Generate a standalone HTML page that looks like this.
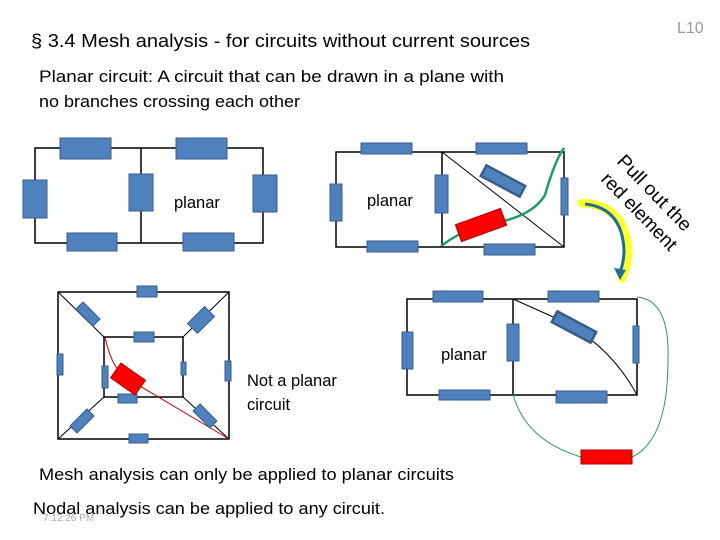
<!DOCTYPE html>
<html><head><style>
body{margin:0;background:#fff;}
svg{display:block;}
text{font-family:"Liberation Sans",sans-serif;}
</style></head><body>
<svg width="720" height="540" viewBox="0 0 720 540" xmlns="http://www.w3.org/2000/svg">
<g fill="#000">
<text x="31" y="47" font-size="18" textLength="499" lengthAdjust="spacingAndGlyphs">§ 3.4  Mesh analysis -  for circuits without current sources</text>
<text x="677" y="33" font-size="16" fill="#999">L10</text>
<text x="39" y="82" font-size="16.5" textLength="465" lengthAdjust="spacingAndGlyphs">Planar circuit:  A circuit that can be drawn in a plane with</text>
<text x="39" y="107" font-size="16.5" textLength="261" lengthAdjust="spacingAndGlyphs">no branches crossing each other</text>
<text x="39" y="480" font-size="16.5" textLength="415" lengthAdjust="spacingAndGlyphs">Mesh analysis can only be applied to planar circuits</text>
<text x="33" y="514" font-size="16.5" textLength="352" lengthAdjust="spacingAndGlyphs">Nodal analysis can be applied to any circuit.</text>
<text x="43" y="521" font-size="10" fill="#aaa">7:12:26 PM</text>
<text x="174" y="208" font-size="16.5">planar</text>
<text x="367" y="206" font-size="16.5">planar</text>
<text x="441" y="360" font-size="16.5">planar</text>
<text x="247" y="386" font-size="16.5">Not a planar</text>
<text x="247" y="410" font-size="16.5">circuit</text>
<text font-size="19" transform="translate(616,162) rotate(46)" textLength="98" lengthAdjust="spacingAndGlyphs">Pull out the</text>
<text font-size="19" transform="translate(600,180) rotate(46)" textLength="100" lengthAdjust="spacingAndGlyphs">red element</text>
</g>
<g stroke="#000" stroke-width="1.5" fill="none">
<rect x="35" y="148" width="228" height="95"/><line x1="141" y1="148" x2="141" y2="243"/>
<rect x="336" y="152" width="228" height="95"/><line x1="442" y1="152" x2="442" y2="247"/>
<rect x="58" y="292" width="171" height="147"/><rect x="104" y="337" width="79" height="60"/>
<rect x="407" y="299" width="230" height="96"/><line x1="513" y1="299" x2="513" y2="395"/>
</g>
<g stroke="#000" stroke-width="1" fill="none">
<line x1="442" y1="152" x2="564" y2="247"/>
<line x1="58" y1="292" x2="104" y2="337"/><line x1="229" y1="292" x2="183" y2="337"/>
<line x1="58" y1="439" x2="104" y2="397"/><line x1="229" y1="439" x2="183" y2="397"/>
<path d="M513 299 L560 320 Q610 345 637 395"/>
</g>
<path d="M105 337 Q112 370 128 379 L229 439" stroke="#c00000" stroke-width="1" fill="none"/>
<path d="M441 246 Q460 232 480 225 Q530 220 545 195 Q555 160 564 148" stroke="#1aa060" stroke-width="2.5" fill="none"/>
<path d="M513 394 Q525 440 581 457 M632 457 Q668 440 668 360 Q670 300 637 297" stroke="#2a9a60" stroke-width="1" fill="none"/>
<g fill="#4f81bd" stroke="#385d8a" stroke-width="1">
<rect x="60" y="138" width="51" height="21"/><rect x="176" y="138" width="51" height="21"/>
<rect x="23" y="180" width="24" height="38"/><rect x="129" y="174" width="24" height="37"/><rect x="253" y="175" width="24" height="37"/>
<rect x="67" y="233" width="50" height="18"/><rect x="183" y="233" width="51" height="18"/>
<rect x="361" y="143" width="51" height="11"/><rect x="476" y="143" width="51" height="11"/>
<rect x="330" y="184" width="12" height="37"/><rect x="435" y="175" width="13" height="38"/><rect x="561" y="178" width="7" height="37"/>
<rect x="367" y="241" width="51" height="11"/><rect x="484" y="244" width="51" height="11"/>
<rect x="137" y="286" width="20" height="11"/><rect x="134" y="332" width="20" height="10"/><rect x="129" y="434" width="19" height="9"/><rect x="118" y="394" width="19" height="9"/>
<rect x="57" y="354" width="6" height="21"/><rect x="225" y="361" width="6" height="20"/><rect x="102" y="366" width="6" height="22"/><rect x="181" y="362" width="5" height="13"/>
<rect x="433" y="291" width="50" height="11"/><rect x="548" y="291" width="51" height="11"/>
<rect x="439" y="390" width="51" height="10"/><rect x="556" y="391" width="51" height="12"/>
<rect x="402" y="332" width="11" height="37"/><rect x="507" y="324" width="12" height="37"/><rect x="633" y="326" width="6" height="37"/>
<rect x="-22" y="-6" width="44" height="12" transform="translate(503,181) rotate(28)" stroke-width="2.5"/>
<rect x="-22" y="-6" width="44" height="12" transform="translate(574,327) rotate(28)" stroke-width="2.5"/>
<rect x="-12" y="-5" width="24" height="10" transform="translate(88,314) rotate(45)"/>
<rect x="-12" y="-7" width="24" height="14" transform="translate(201,320) rotate(-45)"/>
<rect x="-12" y="-5" width="24" height="10" transform="translate(82,421) rotate(-45)"/>
<rect x="-12" y="-5" width="24" height="10" transform="translate(205,416) rotate(45)"/>
</g>
<g fill="#f00" stroke="#a00" stroke-width="1">
<rect x="-24" y="-9" width="48" height="18" transform="translate(481,225) rotate(-20)"/>
<rect x="-15" y="-9" width="30" height="18" transform="translate(128,379) rotate(35)"/>
<rect x="581" y="450" width="51" height="14"/>
</g>
<path d="M582 203 Q625 205 628 250 Q628 265 622 278" stroke="#ffff33" stroke-width="9" fill="none" stroke-linecap="round"/>
<path d="M585 204 Q622 208 624 250 Q624 262 620 272" stroke="#1f6f8f" stroke-width="3" fill="none"/>
<polygon points="614,268 626,270 620,280" fill="#1f6f8f"/>
</svg>
</body></html>
